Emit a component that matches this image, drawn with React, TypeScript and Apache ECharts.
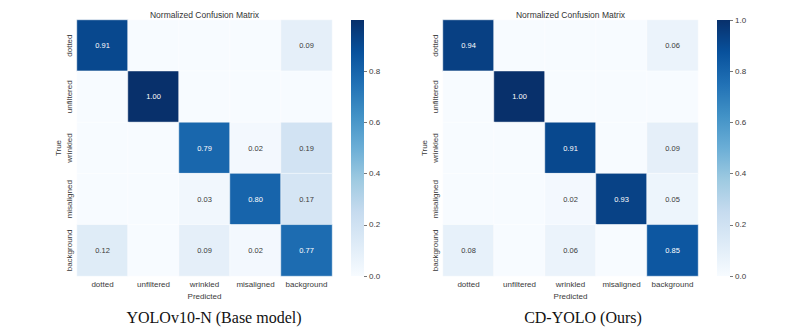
import React, { useEffect, useRef } from "react";
import * as echarts from "echarts";

const classes = ["dotted", "unfiltered", "wrinkled", "misaligned", "background"];

const baseMatrix = [
  [0.91, 0, 0, 0, 0.09],
  [0, 1.0, 0, 0, 0],
  [0, 0, 0.79, 0.02, 0.19],
  [0, 0, 0.03, 0.8, 0.17],
  [0.12, 0, 0.09, 0.02, 0.77],
];

const oursMatrix = [
  [0.94, 0, 0, 0, 0.06],
  [0, 1.0, 0, 0, 0],
  [0, 0, 0.91, 0, 0.09],
  [0, 0, 0.02, 0.93, 0.05],
  [0.08, 0, 0.06, 0, 0.85],
];

const tickStep = 0.2;
const showTopTick = [false, true];

const chartTitle = "Normalized Confusion Matrix";
const captions = ["YOLOv10-N (Base model)", "CD-YOLO (Ours)"];

const blues = ["#f7fbff", "#deebf7", "#c6dbef", "#9ecae1", "#6baed6", "#4292c6", "#2171b5", "#08519c", "#08306b"];

const SANS = "'Liberation Sans', Arial, sans-serif";
const TXT = "#3a3a3a";

function toData(m: number[][]) {
  const out: any[] = [];
  m.forEach((row, r) =>
    row.forEach((v, c) => {
      out.push({ value: [c, r, v], label: { color: v > 0.5 ? "#ffffff" : TXT } });
    })
  );
  return out;
}

const heatGrids = [
  { left: 77, top: 20, width: 255, height: 256 },
  { left: 443, top: 20, width: 255, height: 256 },
];
const barRects = [
  { left: 351, top: 20, width: 13, height: 256 },
  { left: 717, top: 20, width: 13, height: 256 },
];
// thin grids right of each colour bar, whose split lines act as ticks
const tickGrids = [
  { left: 364, top: 20, width: 3, height: 256 },
  { left: 730, top: 20, width: 3, height: 256 },
];

export default function App() {
  const ref = useRef<HTMLDivElement>(null);
  useEffect(() => {
    if (!ref.current) return;
    const chart = echarts.init(ref.current, null, { renderer: "svg" });
    const matrices = [baseMatrix, oursMatrix];

    const xAxis: any[] = [];
    const yAxis: any[] = [];
    const series: any[] = [];
    const visualMap: any[] = [];
    const graphic: any[] = [];

    matrices.forEach((m, i) => {
      xAxis.push({
        type: "category",
        gridIndex: i,
        data: classes,
        position: "bottom",
        axisLine: { show: false },
        axisTick: { show: false },
        axisLabel: { fontSize: 8, color: TXT, fontFamily: SANS, margin: 4, interval: 0 },
        name: "Predicted",
        nameLocation: "middle",
        nameGap: 11,
        nameTextStyle: { fontSize: 8, color: TXT, fontFamily: SANS },
        splitLine: { show: false },
      });
      yAxis.push({
        type: "category",
        gridIndex: i,
        data: classes,
        inverse: true,
        axisLine: { show: false },
        axisTick: { show: false },
        axisLabel: { fontSize: 8, color: TXT, fontFamily: SANS, rotate: 90, margin: 4, interval: 0 },
        name: "True",
        nameLocation: "middle",
        nameGap: 15,
        nameRotate: 90,
        nameTextStyle: { fontSize: 8, color: TXT, fontFamily: SANS },
        splitLine: { show: false },
      });
      series.push({
        type: "heatmap",
        xAxisIndex: i,
        yAxisIndex: i,
        data: toData(m),
        itemStyle: { borderColor: "#ffffff", borderWidth: 0.5 },
        label: {
          show: true,
          fontSize: 7.5,
          fontFamily: SANS,
          formatter: (p: any) => (p.value[2] === 0 ? "" : p.value[2].toFixed(2)),
        },
        emphasis: { disabled: true },
      });
      visualMap.push({
        type: "continuous",
        show: false,
        seriesIndex: i,
        dimension: 2,
        min: 0,
        max: 1,
        inRange: { color: blues },
      });
    });

    tickGrids.forEach((g, k) => {
      xAxis.push({ type: "value", gridIndex: 2 + k, show: false, min: 0, max: 1 });
      yAxis.push({
        type: "value",
        gridIndex: 2 + k,
        min: 0,
        max: 1,
        interval: tickStep,
        position: "right",
        axisLine: { show: false },
        axisTick: { show: false },
        splitLine: {
          show: true,
          showMinLine: true,
          showMaxLine: showTopTick[k],
          lineStyle: { color: "#555", width: 0.8 },
        },
        axisLabel: {
          fontSize: 8,
          color: TXT,
          fontFamily: SANS,
          margin: 2,
          showMaxLabel: showTopTick[k],
          formatter: (v: number) => v.toFixed(1),
        },
      });
    });

    barRects.forEach((g) => {
      graphic.push({
        type: "rect",
        shape: { x: g.left, y: g.top, width: g.width, height: g.height },
        style: {
          fill: new echarts.graphic.LinearGradient(
            0,
            1,
            0,
            0,
            blues.map((c, j) => ({ offset: j / (blues.length - 1), color: c }))
          ),
        },
        silent: true,
      });
    });

    heatGrids.forEach((g) => {
      graphic.push({
        type: "text",
        x: g.left + g.width / 2,
        y: 14.5,
        style: {
          text: chartTitle,
          fontSize: 8.5,
          fontFamily: SANS,
          fill: "#333",
          textAlign: "center",
          textVerticalAlign: "middle",
        },
      });
    });
    const capX = [214, 583];
    captions.forEach((c, i) => {
      graphic.push({
        type: "text",
        x: capX[i],
        y: 317,
        style: {
          text: c,
          fontSize: 16,
          fontFamily: "'Liberation Serif', 'Times New Roman', serif",
          fill: "#111",
          textAlign: "center",
          textVerticalAlign: "middle",
        },
      });
    });

    chart.setOption({
      animation: false,
      backgroundColor: "#ffffff",
      grid: [...heatGrids, ...tickGrids],
      xAxis,
      yAxis,
      visualMap,
      series,
      graphic,
    });
    return () => chart.dispose();
  }, []);
  return (
    <div
      ref={ref}
      style={{ position: "fixed", left: 0, top: 0, width: 788, height: 335, background: "#fff" }}
    />
  );
}
